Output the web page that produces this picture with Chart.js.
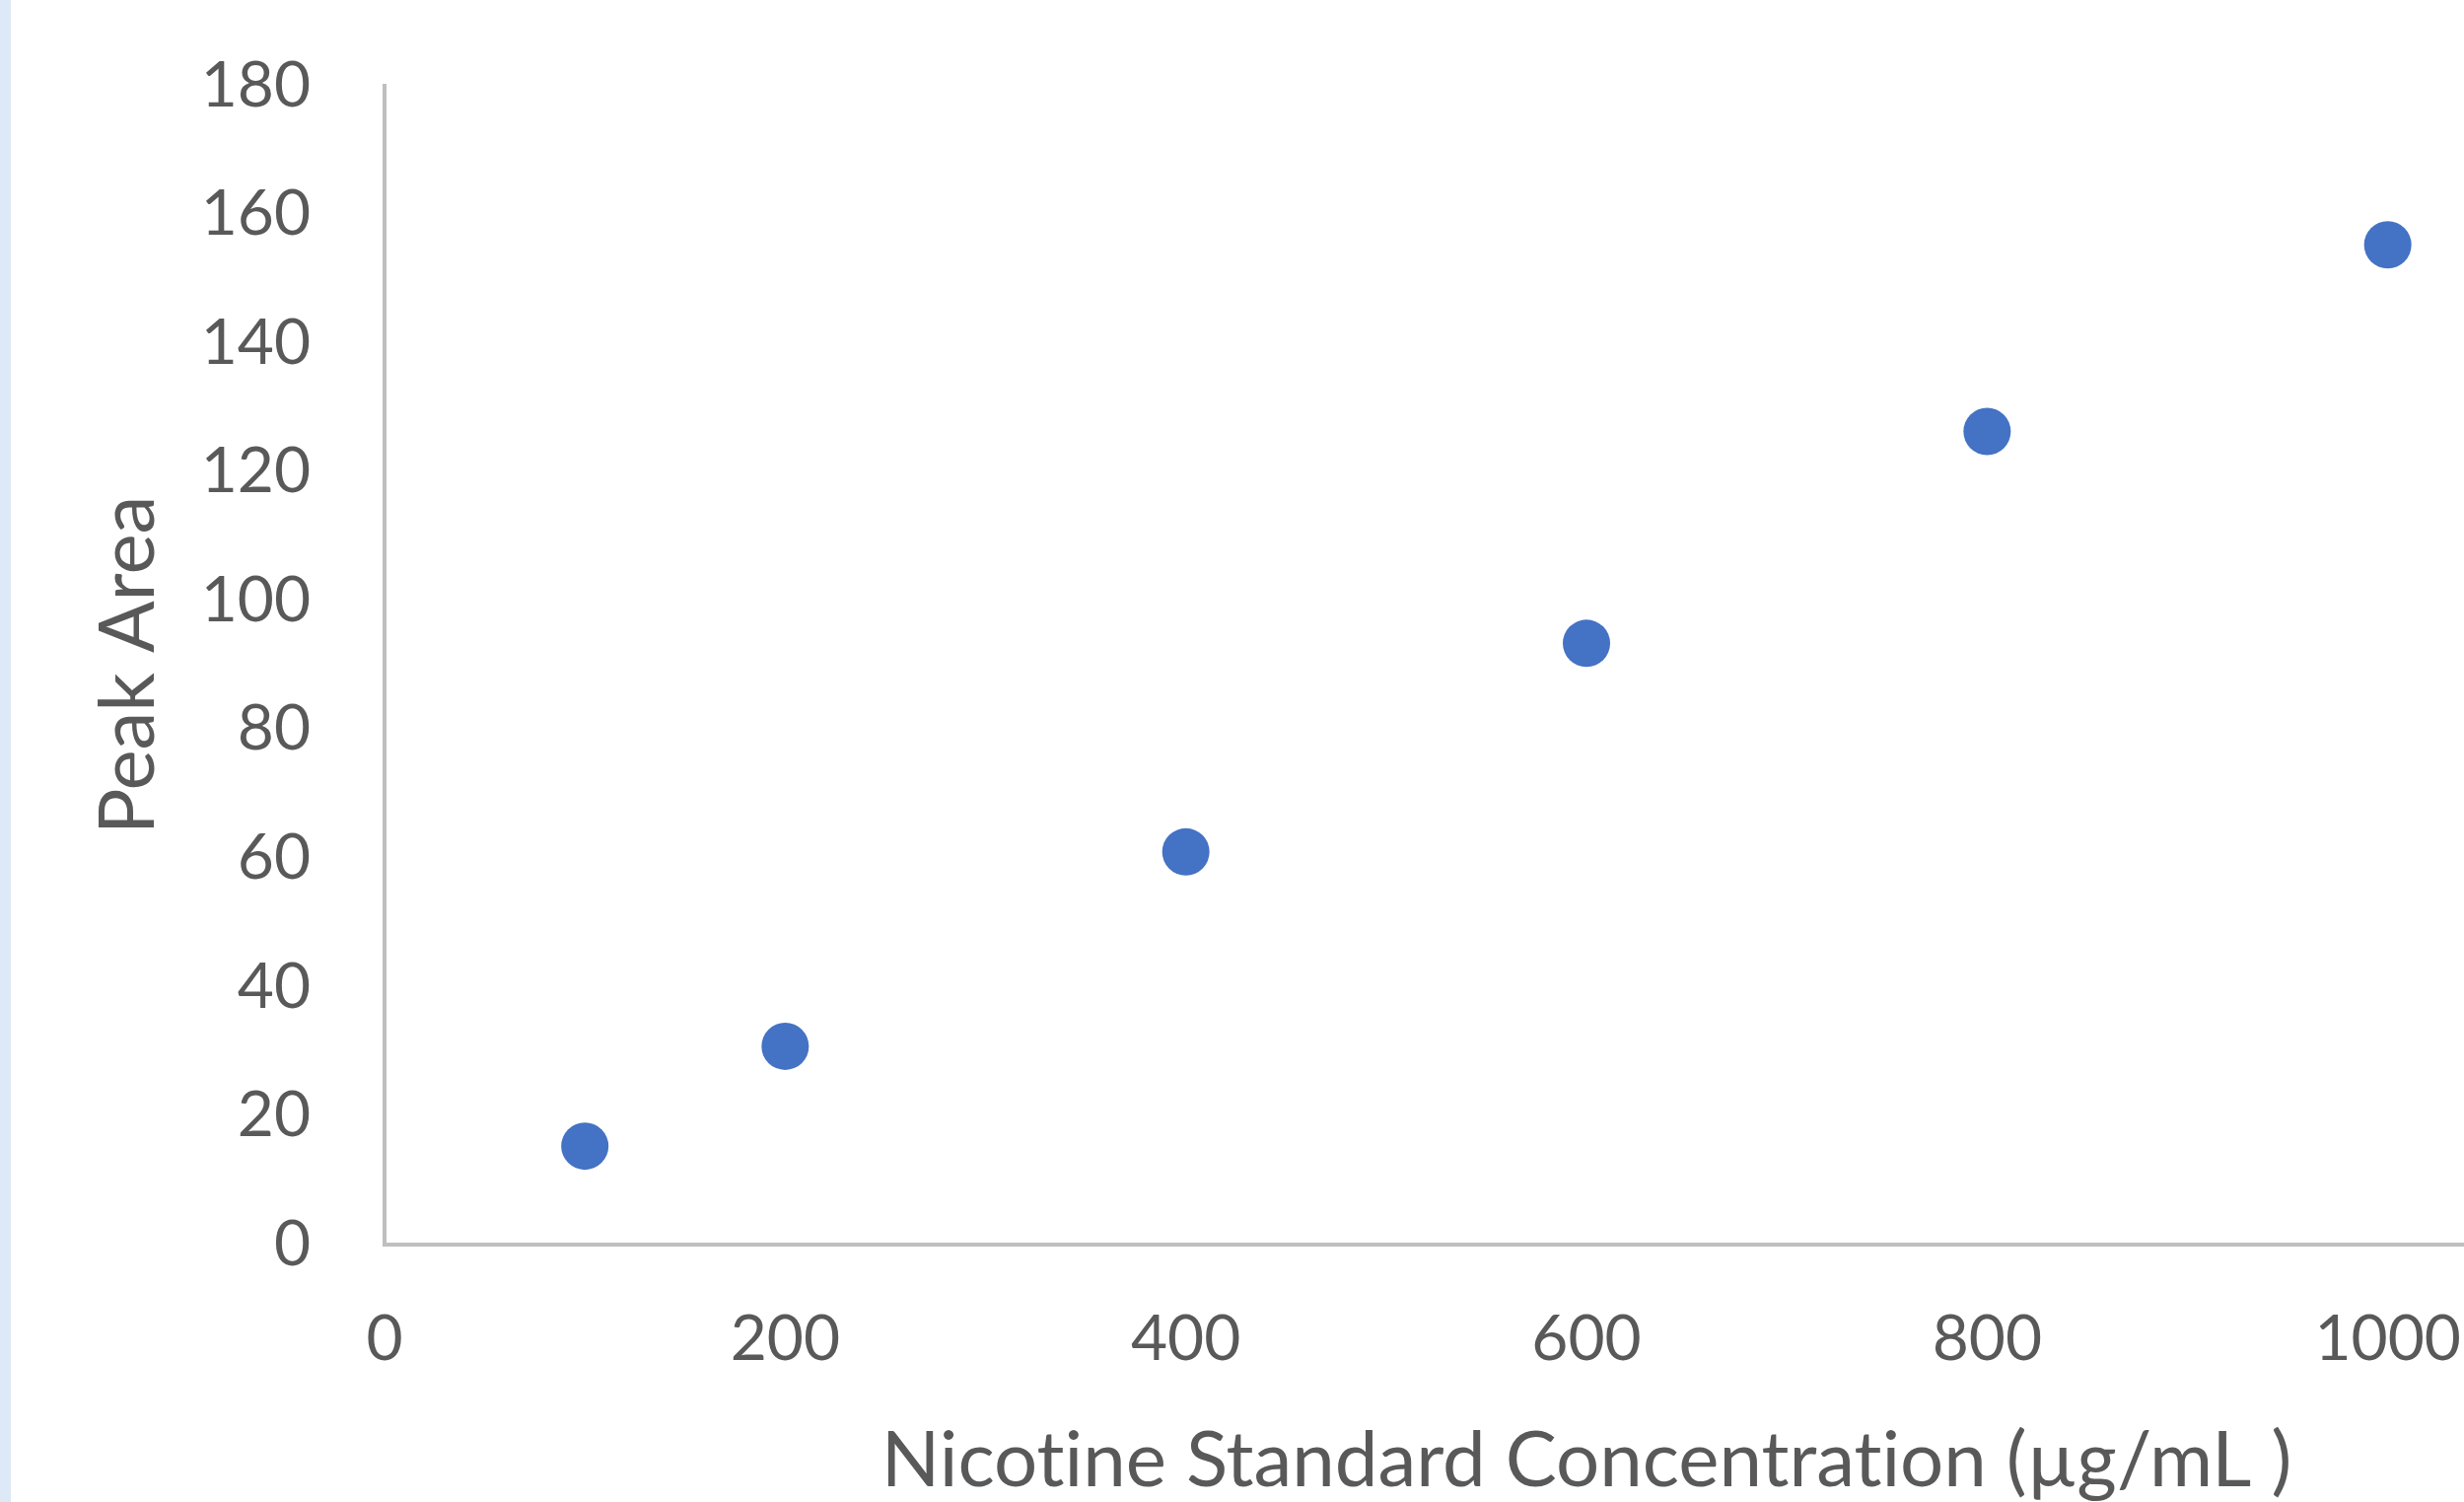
<!DOCTYPE html>
<html>
<head>
<meta charset="utf-8">
<script src="https://cdn.jsdelivr.net/npm/chart.js@4/dist/chart.umd.min.js"></script>
<style>
  html, body { margin: 0; padding: 0; background: #fff; overflow: hidden; width: 2499px; height: 1523px; }
  #strip { position: absolute; left: 0; top: 0; width: 11px; height: 1523px; background: #dde9f6; z-index: 2; }
  #chart { position: absolute; left: 0; top: 0; }
</style>
</head>
<body>
<div id="strip"></div>
<canvas id="chart" width="2968" height="1560"></canvas>
<script>
// Nicotine standard concentrations (ug/mL) and measured peak areas
const concentrations = [100, 200, 400, 600, 800, 1000];
const peakAreas = [15.3, 30.8, 61.0, 93.4, 126.3, 155.3];

// zero-width non-joiner keeps Lato from fusing "ti" into a ligature
const xTitle = 'Nicot\u200Cine Standard Concentrat\u200Cion (µg/mL )';
const yTitle = 'Peak Area';

const textColor = '#595959';
const axisColor = '#bfbfbf';

const ctx = document.getElementById('chart').getContext('2d');

new Chart(ctx, {
    type: 'scatter',
    data: {
        datasets: [{
            data: concentrations.map((c, i) => ({ x: c, y: peakAreas[i] })),
            backgroundColor: '#4472c4',
            borderWidth: 0,
            pointRadius: 24,
            pointHoverRadius: 24
        }]
    },
    options: {
        responsive: false,
        animation: false,
        layout: { padding: { top: 87, left: 0, right: 140, bottom: 0 } },
        plugins: {
            legend: { display: false },
            tooltip: { enabled: false }
        },
        scales: {
            x: {
                type: 'linear',
                min: 0,
                max: 1200,
                afterFit: (scale) => { scale.height = 298; },
                grid: { display: false, drawTicks: false },
                border: { display: true, color: axisColor, width: 4 },
                ticks: {
                    stepSize: 200,
                    padding: 58,
                    color: textColor,
                    font: { family: 'Lato', size: 64 },
                    callback: (v) => String(v)
                },
                title: {
                    display: true,
                    text: xTitle,
                    color: textColor,
                    font: { family: 'Lato', size: 78 },
                    padding: { top: 0, bottom: 31 }
                }
            },
            y: {
                type: 'linear',
                min: 0,
                max: 180,
                afterFit: (scale) => { scale.width = 390; },
                // invisible ticks push the labels away from the axis line
                grid: {
                    display: true,
                    drawOnChartArea: false,
                    drawTicks: true,
                    tickLength: 75,
                    tickColor: 'rgba(0,0,0,0)',
                    color: 'rgba(0,0,0,0)'
                },
                border: { display: true, color: axisColor, width: 4 },
                ticks: {
                    stepSize: 20,
                    padding: 0,
                    color: textColor,
                    font: { family: 'Lato', size: 64 },
                    callback: (v) => String(v)
                },
                title: {
                    display: true,
                    text: yTitle,
                    color: textColor,
                    font: { family: 'Lato', size: 78 },
                    padding: { top: 84, bottom: 0 }
                }
            }
        }
    }
});
</script>
</body>
</html>
